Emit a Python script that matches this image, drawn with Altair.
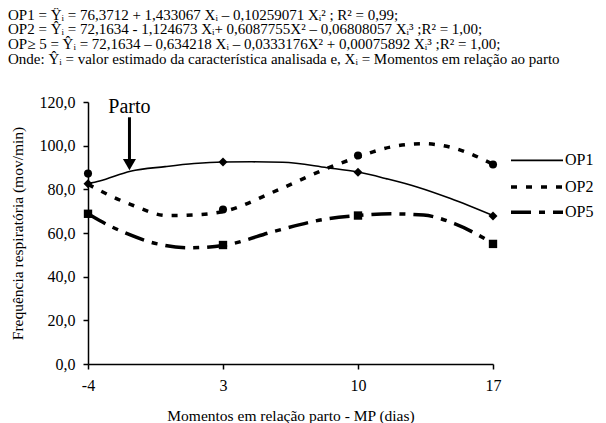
import altair as alt
import pandas as pd

FONT = "Times New Roman"

# ---- text ----
eq_lines = [
    "OP1 = Ŷᵢ = 76,3712 + 1,433067 Xᵢ – 0,10259071 Xᵢ²  ; R² = 0,99;",
    "OP2 = Ŷᵢ = 72,1634 - 1,124673 Xᵢ+ 0,6087755X² – 0,06808057 Xᵢ³  ;R² = 1,00;",
    "OP≥ 5 = Ŷᵢ = 72,1634 – 0,634218 Xᵢ – 0,0333176X² + 0,00075892 Xᵢ³  ;R² = 1,00;",
    "Onde: Ŷᵢ = valor estimado da característica analisada e,  Xᵢ = Momentos em relação ao parto",
]
x_title = "Momentos em  relação parto - MP (dias)"
y_title = "Frequência respiratória (mov/min)"
series_names = ["OP1", "OP2", "OP5"]

# ---- data ----
days = [-4, 3, 10, 17]
y_ticks = [0, 20, 40, 60, 80, 100, 120]

op1_obs = [82.6, 92.5, 87.8, 67.8]
op2_obs = [87.2, 70.8, 95.5, 91.4]
op5_obs = [68.8, 54.5, 68.0, 55.0]

op1_curve_x = [-4, -3.4, -1.8, 0, 1.5, 3, 4.5, 6.1, 8.4, 10, 11.5, 13.1, 14.8, 17]
op1_curve_y = [82.6, 83.8, 88.3, 90.4, 91.8, 92.5, 92.6, 92.4, 89.9, 87.9, 84.8, 81.0, 75.8, 68.0]

op2_curve_x = [-4, -3.4, -1.65, 0.1, 1.5, 3, 5.8, 8.4, 10, 11.7, 13.4, 15, 17]
op2_curve_y = [82.3, 79.5, 72.6, 68.0, 68.3, 69.8, 79.5, 89.6, 94.8, 99.4, 100.9, 98.8, 91.5]

op5_curve_x = [-4, -3.4, -2, -0.4, 1.2, 3, 5.8, 8.4, 10, 11.7, 13.4, 15, 17]
op5_curve_y = [68.8, 65.7, 59.8, 55.0, 53.2, 54.3, 61.1, 66.5, 68.0, 68.8, 68.2, 64.3, 55.2]

parto_day = [-1.85]
parto_text_y = [117.6]
parto_arrow_top = [113.0]
parto_arrow_bottom = [93.0]
parto_head_y = [91.3]

W, H = 405, 262

x_scale = alt.Scale(domain=[-4, 17], nice=False, zero=False)
y_scale = alt.Scale(domain=[0, 120], nice=False, zero=True)

x_axis = alt.Axis(
    values=days, title=x_title, grid=False, tickSize=5, labelPadding=16,
    labelBaseline="middle", labelFontSize=16, titleFontSize=15.5,
    labelFont=FONT, titleFont=FONT, titleFontWeight="normal",
    titleY=51, titleBaseline="middle", labelFlush=False,
    domainColor="black", tickColor="black", labelColor="black", titleColor="black",
    domainWidth=1.5, tickWidth=1.5,
    labelExpr="datum.value < 0 ? '-' + abs(datum.value) : '' + datum.value",
)
y_axis = alt.Axis(
    values=y_ticks, title=y_title, grid=False, tickSize=5, labelPadding=8,
    labelFontSize=16, titleFontSize=15.5,
    labelFont=FONT, titleFont=FONT, titleFontWeight="normal",
    domainColor="black", tickColor="black", labelColor="black", titleColor="black",
    domainWidth=1.5, tickWidth=1.5,
    labelExpr="replace(format(datum.value, '.1f'), '.', ',')",
    titleX=-71, titleY=H / 2, titleAngle=270, titleBaseline="middle", titleAlign="center",
)

styles = {
    "OP1": dict(shape="diamond", size=80, width=1.6, dash=None),
    "OP2": dict(shape="circle", size=65, width=3.5, dash=[6, 9]),
    "OP5": dict(shape="square", size=70, width=3.5, dash=[20, 8, 6, 8]),
}
curves = {
    "OP1": (op1_curve_x, op1_curve_y, op1_obs),
    "OP2": (op2_curve_x, op2_curve_y, op2_obs),
    "OP5": (op5_curve_x, op5_curve_y, op5_obs),
}

layers = []
for name in series_names:
    cx, cy, obs = curves[name]
    st = styles[name]
    df_c = pd.DataFrame({"dia": cx, "val": cy})
    line_kw = dict(color="black", strokeWidth=st["width"], interpolate="monotone")
    if st["dash"]:
        line_kw["strokeDash"] = st["dash"]
    layers.append(
        alt.Chart(df_c).mark_line(**line_kw).encode(
            x=alt.X("dia:Q", scale=x_scale, axis=x_axis),
            y=alt.Y("val:Q", scale=y_scale, axis=y_axis),
        )
    )
for name in series_names:
    cx, cy, obs = curves[name]
    st = styles[name]
    df_p = pd.DataFrame({"dia": days, "val": obs})
    layers.append(
        alt.Chart(df_p).mark_point(shape=st["shape"], size=st["size"], filled=True,
                                   color="black", opacity=1).encode(
            x=alt.X("dia:Q", scale=x_scale, axis=x_axis),
            y=alt.Y("val:Q", scale=y_scale, axis=y_axis),
        )
    )

# Parto annotation
df_parto = pd.DataFrame({"dia": parto_day, "val": parto_text_y, "top": parto_arrow_top,
                         "bot": parto_arrow_bottom, "head": parto_head_y, "t": ["Parto"]})
layers.append(
    alt.Chart(df_parto).mark_text(font=FONT, fontSize=20, color="black", align="center",
                                  baseline="middle").encode(
        x=alt.X("dia:Q", scale=x_scale, axis=x_axis),
        y=alt.Y("val:Q", scale=y_scale, axis=y_axis),
        text="t:N",
    )
)
layers.append(
    alt.Chart(df_parto).mark_rule(color="black", strokeWidth=3).encode(
        x=alt.X("dia:Q", scale=x_scale, axis=x_axis),
        y=alt.Y("top:Q", scale=y_scale, axis=y_axis),
        y2="bot:Q",
    )
)
layers.append(
    alt.Chart(df_parto).mark_point(shape="triangle-down", size=170, filled=True,
                                   color="black", opacity=1).encode(
        x=alt.X("dia:Q", scale=x_scale, axis=x_axis),
        y=alt.Y("head:Q", scale=y_scale, axis=y_axis),
    )
)

# Legend (manual)
one = pd.DataFrame({"a": [0]})
leg_y = [58.3, 85, 110.3]
for i, name in enumerate(series_names):
    st = styles[name]
    rk = dict(color="black", strokeWidth=st["width"] if name != "OP1" else 1.8)
    if st["dash"]:
        rk["strokeDash"] = st["dash"]
    layers.append(
        alt.Chart(one).mark_rule(**rk).encode(
            x=alt.value(423), x2=alt.value(475), y=alt.value(leg_y[i])
        )
    )
    layers.append(
        alt.Chart(one).mark_text(font=FONT, fontSize=16, color="black", align="left",
                                 baseline="middle").encode(
            x=alt.value(477), y=alt.value(leg_y[i]), text=alt.value(name)
        )
    )

# Equations at the top
eq_y = [-87.5, -73.0, -58.3, -43.5]
for i, line in enumerate(eq_lines):
    layers.append(
        alt.Chart(one).mark_text(font=FONT, fontSize=15, color="black", align="left",
                                 baseline="middle").encode(
            x=alt.value(-80), y=alt.value(eq_y[i]), text=alt.value(line)
        )
    )

chart = alt.layer(*layers).properties(
    width=W, height=H,
    autosize=alt.AutoSizeParams(type="none"),
    padding={"left": 80, "top": 94, "right": 105, "bottom": 59},
).configure_view(stroke=None)

chart.save("out.html", embed_options={"renderer": "svg", "actions": False})
